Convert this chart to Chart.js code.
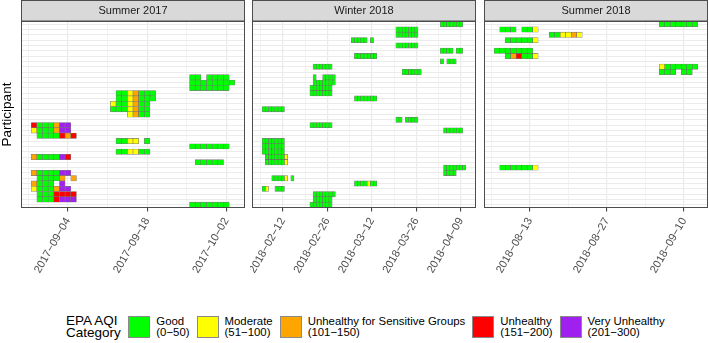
<!DOCTYPE html>
<html>
<head>
<meta charset="utf-8">
<script src="https://cdn.jsdelivr.net/npm/chart.js@4.4.1/dist/chart.umd.min.js"></script>
<style>
  html, body { margin: 0; padding: 0; background: #ffffff; }
  #wrap { position: relative; width: 709px; height: 343px; overflow: hidden;
          font-family: "Liberation Sans", Arial, Helvetica, sans-serif; }
  canvas { position: absolute; top: 0; }
  #legend { position: absolute; left: 66px; top: 315px; display: flex; align-items: center; }
  #legend .ttl { font-size: 13.5px; line-height: 12.4px; color: #000; margin-right: 7.5px; }
  #legend .key { width: 22px; height: 22px; box-sizing: border-box; border: 1px solid #8a8a8a; margin-right: 6px; }
  #legend .lbl { font-size: 11.4px; line-height: 11.3px; color: #000; margin-right: 7px; white-space: nowrap; }
</style>
</head>
<body>
<div id="wrap">
  <canvas id="c1" width="247" height="300" style="left:0px"></canvas>
  <canvas id="c2" width="229" height="300" style="left:250px"></canvas>
  <canvas id="c3" width="227" height="300" style="left:482px"></canvas>
  <div id="legend"></div>
</div>
<script>
// ---------------- data ----------------
const participants = ['P01','P02','P03','P04','P05','P06','P07','P08','P09','P10',
                      'P11','P12','P13','P14','P15','P16','P17','P18','P19','P20',
                      'P21','P22','P23','P24','P25','P26','P27','P28','P29','P30',
                      'P31','P32','P33','P34','P35'];

const aqiCodes  = ['G', 'Y', 'O', 'R', 'P'];
const aqiNames  = ['Good', 'Moderate', 'Unhealthy for Sensitive Groups', 'Unhealthy', 'Very Unhealthy'];
const aqiRanges = ['(0−50)', '(51−100)', '(101−150)', '(151−200)', '(201−300)'];

const facetTitles = ['Summer 2017', 'Winter 2018', 'Summer 2018'];

const ticksSummer2017 = ['2017-09-04', '2017-09-18', '2017-10-02'];
const ticksWinter2018 = ['2018-02-12', '2018-02-26', '2018-03-12', '2018-03-26', '2018-04-09'];
const ticksSummer2018 = ['2018-08-13', '2018-08-27', '2018-09-10'];

// [participant, first day, daily AQI category codes (G,Y,O,R,P; '.' = no data)]
const runsSummer2017 = [
  ['P11', '2017-09-26', 'GG.GGGG'],
  ['P12', '2017-09-26', 'GGGGGGGG'],
  ['P13', '2017-09-26', 'GGGGGGG'],
  ['P14', '2017-09-13', 'GGYOGGG'],
  ['P15', '2017-09-13', 'GGYOGGG'],
  ['P16', '2017-09-12', 'YGGYOGG'],
  ['P17', '2017-09-12', 'GGGYOGG'],
  ['P18', '2017-09-15', 'YOGG'],
  ['P20', '2017-08-29', 'RGGGOPP'],
  ['P21', '2017-08-29', 'YGGGOPP'],
  ['P22', '2017-08-30', 'GGGGROR'],
  ['P23', '2017-09-13', 'GGYY.G'],
  ['P24', '2017-09-26', 'GGGGGGG'],
  ['P25', '2017-09-13', 'GGYYGG'],
  ['P26', '2017-08-29', 'OGGGGPR'],
  ['P27', '2017-09-27', 'GGGGG'],
  ['P29', '2017-08-29', 'OGGGGPP'],
  ['P30', '2017-08-30', 'GGGGO.O'],
  ['P31', '2017-08-29', 'OGGG.P'],
  ['P32', '2017-08-29', 'YGGGOPP'],
  ['P33', '2017-08-30', 'GGGRRRR'],
  ['P34', '2017-08-30', 'GGGRPPP'],
  ['P35', '2017-09-26', 'GGGGGGG']
];

const runsWinter2018 = [
  ['P01', '2018-04-03', 'GGGGGGG'],
  ['P02', '2018-03-20', 'GGGGGGG'],
  ['P03', '2018-03-20', 'GGGGGGG'],
  ['P04', '2018-03-06', 'GGGGG.G'],
  ['P05', '2018-03-20', 'GGGGGGG'],
  ['P06', '2018-04-03', 'GGGG.GG'],
  ['P07', '2018-03-07', 'GGGGGGG'],
  ['P08', '2018-04-03', 'G.GGG'],
  ['P09', '2018-02-22', 'GGGGGG'],
  ['P10', '2018-03-22', 'GGGGGG'],
  ['P11', '2018-02-22', 'G..GGGG'],
  ['P12', '2018-02-22', 'GGGGGGG'],
  ['P13', '2018-02-21', 'GGGGGGG'],
  ['P14', '2018-02-21', 'GGGGGGG'],
  ['P15', '2018-03-07', 'GGGGGGG'],
  ['P17', '2018-02-06', 'GGGGGGG'],
  ['P19', '2018-03-20', 'GG.GGGG'],
  ['P20', '2018-02-21', 'GGGGGGG'],
  ['P21', '2018-04-04', 'GGGGGG'],
  ['P23', '2018-02-06', 'GGGGGGG'],
  ['P24', '2018-02-06', 'GGGGGGG'],
  ['P25', '2018-02-06', 'GGGGGGG'],
  ['P26', '2018-02-07', 'GGGGGGY'],
  ['P27', '2018-02-07', 'GGGGGGY'],
  ['P28', '2018-04-04', 'GGGGGGG'],
  ['P29', '2018-04-04', 'GGGG'],
  ['P30', '2018-02-09', 'GGGGY.G'],
  ['P31', '2018-03-07', 'GGGGYGG'],
  ['P32', '2018-02-06', 'GY..GGG'],
  ['P33', '2018-02-22', 'GGGGGGG'],
  ['P34', '2018-02-22', 'GGGGGG'],
  ['P35', '2018-02-21', 'GGGGGGG']
];

const runsSummer2018 = [
  ['P01', '2018-09-06', 'GGGGGGG'],
  ['P02', '2018-08-08', 'GGG.GGY'],
  ['P03', '2018-08-17', 'GGYYOY'],
  ['P04', '2018-08-09', 'GGGGGY'],
  ['P06', '2018-08-07', 'GGGGGGG'],
  ['P07', '2018-08-09', 'GORGGY'],
  ['P09', '2018-09-06', 'YGGGGGG'],
  ['P10', '2018-09-06', 'GGG.GG'],
  ['P28', '2018-08-08', 'GGGGGGY']
];

// ---------------- styles ----------------
const FONT = '"Liberation Sans", Arial, Helvetica, sans-serif';
const fillOf = { G: '#00FF00', Y: '#FFFF00', O: '#FFA500', R: '#FF0000', P: '#A020F0' };
Chart.defaults.font.family = FONT;

const DAY = 86400000;
function dayNum(s) { const [y, m, d] = s.split('-').map(Number); return Date.UTC(y, m - 1, d) / DAY; }

function toCells(runs) {
  const out = [];
  runs.forEach(([p, start, codes]) => {
    const d0 = dayNum(start);
    [...codes].forEach((c, i) => {
      if (c === '.') return;
      out.push({ x: [d0 + i - 0.5, d0 + i + 0.5], y: participants.indexOf(p) + 1, code: c });
    });
  });
  return out;
}

const panelPlugin = {
  id: 'panelDeco',
  beforeDraw(chart) {
    const { ctx, chartArea: a } = chart;
    ctx.save();
    ctx.fillStyle = '#D9D9D9';
    ctx.fillRect(a.left, 0.5, a.right - a.left, a.top - 0.5);
    ctx.strokeStyle = '#4d4d4d';
    ctx.lineWidth = 1;
    ctx.strokeRect(a.left + 0.5, 0.5, a.right - a.left - 1, a.top - 0.5);
    ctx.restore();
  },
  afterDatasetsDraw(chart) {
    const { ctx, chartArea: a } = chart;
    ctx.save();
    ctx.strokeStyle = '#4d4d4d';
    ctx.lineWidth = 1;
    ctx.strokeRect(a.left + 0.5, a.top + 0.5, a.right - a.left - 1, a.bottom - a.top - 1);
    ctx.restore();
  }
};

function makePanel(id, title, runs, tickLabels, first, padRight) {
  const data = toCells(runs);
  const lo = Math.min(...data.map(c => c.x[0]));
  const hi = Math.max(...data.map(c => c.x[1]));
  const pad = (hi - lo) * 0.05;
  const xmin = lo - pad, xmax = hi + pad;
  const majors = tickLabels.map(dayNum);
  const step = majors[1] - majors[0];
  const minors = [];
  for (let v = majors[0] - step / 2; v < xmax; v += step) if (v > xmin) minors.push(v);
  const labelOf = new Map(majors.map((v, i) => [v, tickLabels[i].replace(/-/g, '\u2212')]));
  const isMajor = ctx => ctx.tick && labelOf.has(ctx.tick.value);

  new Chart(document.getElementById(id), {
    type: 'bar',
    data: {
      datasets: [{
        data,
        backgroundColor: data.map(c => fillOf[c.code]),
        borderColor: 'rgba(95,95,95,0.8)',
        borderWidth: 0.6,
        borderSkipped: false,
        barPercentage: 1,
        categoryPercentage: 1
      }]
    },
    options: {
      indexAxis: 'y',
      responsive: false,
      animation: false,
      events: [],
      layout: { padding: { top: 0, left: 0, right: padRight, bottom: 0 } },
      plugins: {
        legend: { display: false },
        tooltip: { enabled: false },
        title: {
          display: true, text: title, fullSize: false, color: '#1A1A1A',
          font: { family: FONT, size: 11, weight: 'normal', lineHeight: 1.2 },
          padding: { top: 4, bottom: 3.8 }
        }
      },
      scales: {
        x: {
          type: 'linear', min: xmin, max: xmax, offset: false, beginAtZero: false,
          afterBuildTicks: s => { s.ticks = [...majors, ...minors].sort((a, b) => a - b).map(v => ({ value: v })); },
          afterFit: s => { s.height = 92; s.paddingLeft = 0; s.paddingRight = 0; },
          ticks: {
            autoSkip: false, minRotation: 60, maxRotation: 60, padding: 4,
            color: '#4D4D4D', font: { family: FONT, size: 11 },
            callback: v => labelOf.get(v) ?? ''
          },
          grid: {
            color: '#EBEBEB',
            lineWidth: ctx => isMajor(ctx) ? 1.2 : 0.6,
            tickLength: 3.5,
            tickColor: ctx => isMajor(ctx) ? '#333333' : 'rgba(0,0,0,0)',
            tickWidth: 1
          },
          border: { display: false }
        },
        y: {
          type: 'linear', reverse: true, min: 0.4, max: participants.length + 0.6,
          offset: false, beginAtZero: false,
          afterBuildTicks: s => { s.ticks = participants.map((p, i) => ({ value: i + 1 })); },
          afterFit: s => { s.width = first ? 21 : 2; },
          ticks: { display: false },
          grid: { color: '#EBEBEB', lineWidth: 1, drawTicks: false, offset: false },
          border: { display: false },
          title: {
            display: first, text: 'Participant', color: '#000000',
            font: { family: FONT, size: 13.5, lineHeight: 1.1 }, padding: 0
          }
        }
      }
    },
    plugins: [panelPlugin]
  });
}

makePanel('c1', facetTitles[0], runsSummer2017, ticksSummer2017, true, 2);
makePanel('c2', facetTitles[1], runsWinter2018, ticksWinter2018, false, 3);
makePanel('c3', facetTitles[2], runsSummer2018, ticksSummer2018, false, 1);

// ---------------- legend ----------------
const legend = document.getElementById('legend');
const ttl = document.createElement('div');
ttl.className = 'ttl';
ttl.innerHTML = 'EPA AQI<br>Category';
legend.appendChild(ttl);
aqiCodes.forEach((c, i) => {
  const k = document.createElement('div');
  k.className = 'key';
  k.style.background = fillOf[c];
  legend.appendChild(k);
  const l = document.createElement('div');
  l.className = 'lbl';
  l.innerHTML = aqiNames[i] + '<br>' + aqiRanges[i];
  legend.appendChild(l);
});
</script>
</body>
</html>
